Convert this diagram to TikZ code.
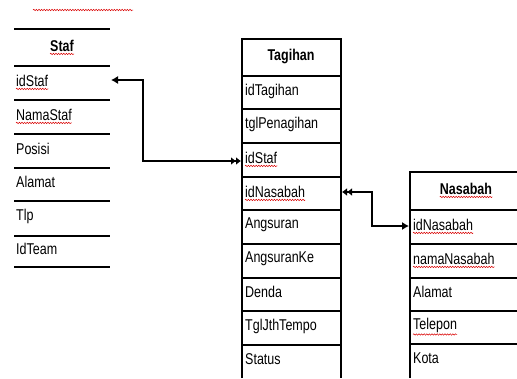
\documentclass[tikz,border=0pt]{standalone}
\usepackage{graphicx}
\usepackage{fontspec}
\setmainfont{Liberation Sans}
\usetikzlibrary{arrows.meta,decorations.pathmorphing}
\newcommand\tallword[1]{\scalebox{1}[1.25]{#1}}
\begin{document}
\begin{tikzpicture}[x=1pt,y=-1pt]
\useasboundingbox (0,0) rectangle (517,378);
\tikzset{
  cell/.style={anchor=west,inner sep=0pt,font=\fontsize{12.5}{13}\selectfont},
  head/.style={inner sep=0pt,font=\bfseries\fontsize{12.5}{13}\selectfont},
  rule/.style={line width=1.1pt},
  link/.style={line width=1.1pt},
  spell/.style={red!85!black,decorate,decoration={snake,amplitude=0.7pt,segment length=2.6pt},line width=0.5pt},
  tipone/.tip={Latex[length=7pt,width=8pt]},
  tiptwo/.tip={Latex[length=5pt,width=8pt]Latex[length=5pt,width=8pt]},
}
% ---------- Staf ----------
\foreach \y in {29,66,100,134,168,201,236,267} \draw[rule] (14,\y) -- (110,\y);
\node[head] (staf) at (62,46) {\tallword{Staf}};
\node[cell] (s1) at (16,81) {\tallword{idStaf}};
\node[cell] (s2) at (16,115) {\tallword{NamaStaf}};
\node[cell] (s3) at (16,149) {\tallword{Posisi}};
\node[cell] (s4) at (16,182) {\tallword{Alamat}};
\node[cell] (s5) at (16,216) {\tallword{Tlp}};
\node[cell] (s6) at (16,249) {\tallword{IdTeam}};
% ---------- Tagihan ----------
\draw[rule] (242,378) -- (242,39) -- (341,39) -- (341,378);
\foreach \y in {76,109,143,177,210,244,278,311,345} \draw[rule] (242,\y) -- (341,\y);
\node[head] (tag) at (291,56) {\tallword{Tagihan}};
\node[cell] (t1) at (245,91) {\tallword{idTagihan}};
\node[cell] (t2) at (245,124) {\tallword{tglPenagihan}};
\node[cell] (t3) at (245,158) {\tallword{idStaf}};
\node[cell] (t4) at (245,192) {\tallword{idNasabah}};
\node[cell] (t5) at (245,225) {\tallword{Angsuran}};
\node[cell] (t6) at (245,259) {\tallword{AngsuranKe}};
\node[cell] (t7) at (245,292) {\tallword{Denda}};
\node[cell] (t8) at (245,326) {\tallword{TglJthTempo}};
\node[cell] (t9) at (245,359) {\tallword{Status}};
% ---------- Nasabah ----------
\draw[rule] (410,378) -- (410,172) -- (517,172);
\foreach \y in {210,244,278,311,344} \draw[rule] (410,\y) -- (517,\y);
\node[head] (nas) at (466,189) {\tallword{Nasabah}};
\node[cell] (n1) at (413,225) {\tallword{idNasabah}};
\node[cell] (n2) at (413,259) {\tallword{namaNasabah}};
\node[cell] (n3) at (413,292) {\tallword{Alamat}};
\node[cell] (n4) at (413,325) {\tallword{Telepon}};
\node[cell] (n5) at (413,358) {\tallword{Kota}};
% ---------- connectors ----------
\coordinate (sA) at (111,80);
\coordinate (sB) at (143,80);
\coordinate (tA) at (241,161);
\coordinate (tB) at (342,192);
\coordinate (tC) at (372,192);
\coordinate (nA) at (409,226);
\draw[link,tipone-tiptwo] (sA) -- (sB) |- (tA);
\draw[link,tiptwo-tipone] (tB) -- (tC) |- (nA);
% ---------- spelling marks ----------
\coordinate (r1) at (33,10);
\coordinate (r2) at (133,10);
\draw[spell] (r1) -- (r2);
\foreach \n in {staf,s1,s2,t3,t4,nas,n1,n2,n4}
  \draw[spell] ([yshift=-2pt]\n.south west) -- ([yshift=-2pt]\n.south east);
\end{tikzpicture}
\end{document}
